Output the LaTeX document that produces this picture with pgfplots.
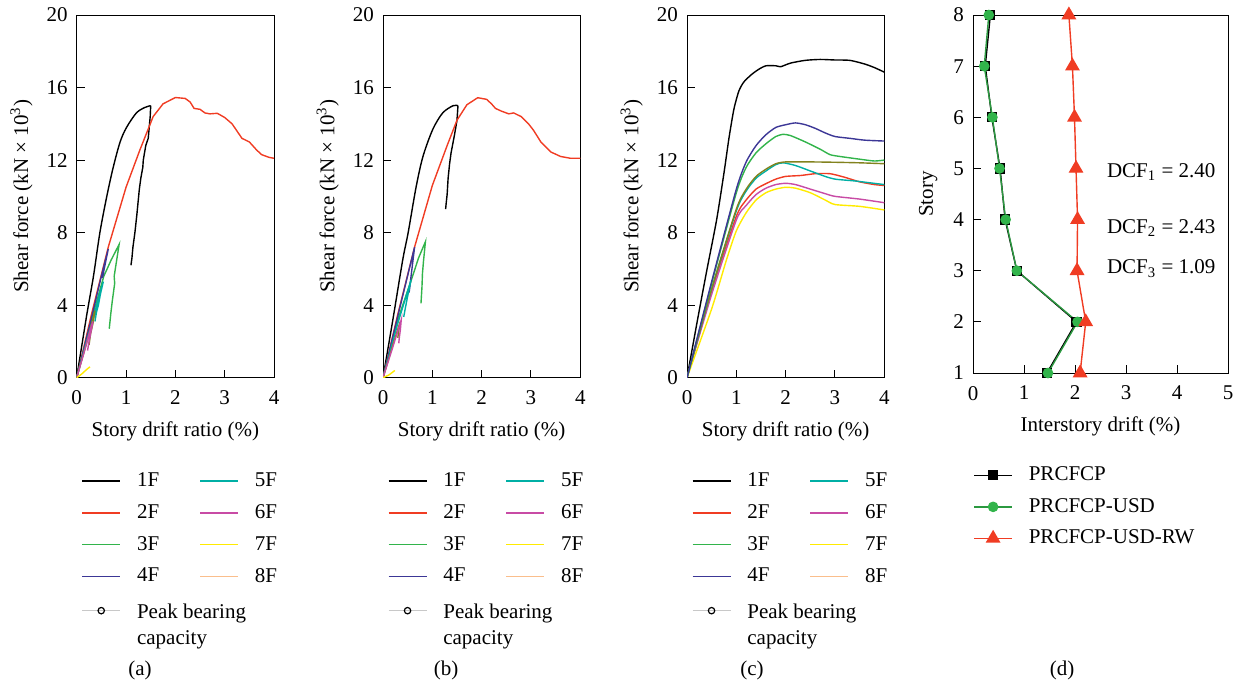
\documentclass[border=0pt]{standalone}
\usepackage{fontspec}
\setmainfont{Liberation Serif}
\usepackage{pgfplots}
\pgfplotsset{compat=1.18}
\definecolor{cR}{RGB}{240,60,35}
\definecolor{cG}{RGB}{50,180,75}
\definecolor{cB}{RGB}{60,55,150}
\definecolor{cC}{RGB}{0,175,165}
\definecolor{cM}{RGB}{200,75,165}
\definecolor{cY}{RGB}{255,235,0}
\definecolor{cO}{RGB}{130,130,30}
\definecolor{cP}{RGB}{250,190,140}
\definecolor{cGr}{RGB}{200,200,200}
\begin{document}
\begin{tikzpicture}
\pgfplotsset{
  common/.style={
    scale only axis, anchor=south west,
    font=\fontsize{10.5pt}{13pt}\selectfont,
    /pgf/number format/assume math mode=true,
    axis line style={line width=0.5pt},
    tick align=inside, xtick pos=bottom, ytick pos=left,
    major tick length=4pt,
    tick style={line width=0.5pt, black},
    every axis plot/.append style={line width=0.7pt},
    xticklabel style={yshift=-3pt},
    yticklabel style={xshift=-1pt},
  },
  drift/.style={
    common,
    width=98.65pt, height=181.35pt,
    xmin=0, xmax=4, ymin=0, ymax=20,
    xtick={0,1,2,3,4}, ytick={0,4,8,12,16,20},
    xlabel={Story drift ratio (\%)},
    xlabel style={at={(axis description cs:0.5,-0.149)}, anchor=center},
    ylabel={Shear force (kN × 10\textsuperscript{3})},
    ylabel style={at={(axis description cs:-0.28,0.5)}, anchor=center},
    legend columns=2,
    legend cell align=left,
    legend image code/.code={\draw[##1,mark repeat=2,mark phase=2] plot coordinates {(0pt,0pt) (9.5pt,0pt) (19pt,0pt)};},
    legend style={at={(axis description cs:0.022,-0.249)}, anchor=north west, draw=none, fill=none,
      inner sep=0pt, column sep=6pt, row sep=3.5pt,
      /tikz/every even column/.append style={column sep=18pt}},
  },
  driftlegend/.code={
    \addlegendimage{black, line width=0.8pt}\addlegendentry{1F}
    \addlegendimage{cC, line width=0.8pt}\addlegendentry{5F}
    \addlegendimage{cR, line width=0.8pt}\addlegendentry{2F}
    \addlegendimage{cM, line width=0.8pt}\addlegendentry{6F}
    \addlegendimage{cG, line width=0.8pt}\addlegendentry{3F}
    \addlegendimage{cY, line width=0.8pt}\addlegendentry{7F}
    \addlegendimage{cB, line width=0.8pt}\addlegendentry{4F}
    \addlegendimage{cP, line width=0.8pt}\addlegendentry{8F}
    \addlegendimage{cGr, line width=0.8pt, mark=o, mark size=1.6pt, mark options={black, line width=0.6pt}}
    \addlegendentry{\makebox[0pt][l]{\begin{tabular}[t]{@{}l@{}}Peak bearing\\capacity\end{tabular}}}
  },
}
% ---------------- (a)
\begin{axis}[drift, at={(38.35pt,-188.85pt)}]
\pgfplotsset{driftlegend}
\addplot[black, forget plot, smooth, tension=0.5] coordinates {(0,0)(0.2,3.4)(0.34,5.6)(0.47,8.0)(0.61,10.0)(0.74,11.6)(0.88,13.0)(1.01,13.8)(1.21,14.6)(1.38,14.9)(1.5,15.0)};
\addplot[black, forget plot] coordinates {(1.5,15.0)(1.49,14.4)(1.45,13.2)(1.4,12.8)(1.35,12.0)(1.34,11.6)(1.3,11.0)(1.27,10.4)(1.22,9.0)(1.18,8.0)(1.14,7.2)(1.12,6.6)(1.1,6.2)};
\addplot[cR, forget plot] coordinates {(0,0)(0.3,3.5)(0.64,7.2)(1.0,10.5)(1.28,12.55)(1.55,14.4)(1.75,15.1)(2.0,15.45)(2.2,15.4)(2.3,15.2)(2.38,14.85)(2.5,14.8)(2.6,14.6)(2.7,14.55)(2.85,14.58)(3.0,14.35)(3.15,14.0)(3.25,13.6)(3.35,13.2)(3.5,13.0)(3.65,12.55)(3.75,12.3)(3.9,12.15)(4.0,12.1)};
\addplot[cG, forget plot] coordinates {(0,0)(0.3,3.2)(0.55,5.6)(0.7,6.5)(0.86,7.35)(0.8,6.3)(0.76,5.6)(0.77,5.2)(0.72,4.2)(0.69,3.5)(0.66,2.7)};
\addplot[cB, forget plot] coordinates {(0,0)(0.3,3.3)(0.5,5.6)(0.64,7.1)(0.58,6.3)(0.52,5.5)(0.55,5.8)};
\addplot[cC, forget plot] coordinates {(0,0)(0.2,2.0)(0.35,3.4)(0.45,4.5)(0.54,5.3)(0.48,4.6)(0.44,4.0)(0.4,3.6)(0.37,3.1)};
\addplot[cO, forget plot] coordinates {(0,0)(0.2,1.9)(0.37,3.7)(0.33,3.0)(0.28,2.4)(0.25,1.8)};
\addplot[cM, forget plot] coordinates {(0,0)(0.15,1.4)(0.3,2.9)(0.33,3.1)(0.28,2.4)(0.25,2.0)(0.22,1.5)};
\addplot[cY, forget plot] coordinates {(0,0)(0.1,0.2)(0.2,0.45)(0.27,0.6)};
\end{axis}
% ---------------- (b)
\begin{axis}[drift, at={(191.5pt,-188.85pt)}]
\pgfplotsset{driftlegend}
\addplot[black, forget plot, smooth, tension=0.5] coordinates {(0,0)(0.2,3.2)(0.40,6.5)(0.51,8.0)(0.67,10.5)(0.81,12.2)(1.01,13.7)(1.21,14.6)(1.42,15.0)(1.52,15.0)};
\addplot[black, forget plot] coordinates {(1.52,15.0)(1.5,14.2)(1.45,13.4)(1.38,12.4)(1.35,11.8)(1.32,11.0)(1.3,10.1)(1.28,9.6)(1.27,9.3)};
\addplot[cR, forget plot] coordinates {(0,0)(0.3,3.5)(0.65,7.3)(1.0,10.6)(1.3,12.8)(1.5,14.2)(1.7,15.05)(1.92,15.44)(2.1,15.35)(2.2,15.1)(2.28,14.85)(2.4,14.7)(2.55,14.55)(2.65,14.6)(2.8,14.4)(2.95,14.0)(3.05,13.65)(3.2,13.0)(3.4,12.45)(3.6,12.2)(3.8,12.1)(4.0,12.1)};
\addplot[cG, forget plot] coordinates {(0,0)(0.3,3.2)(0.6,5.6)(0.72,6.6)(0.86,7.5)(0.82,6.4)(0.8,5.75)(0.79,5.0)(0.77,4.1)};
\addplot[cB, forget plot] coordinates {(0,0)(0.3,3.4)(0.64,7.2)(0.6,6.3)(0.56,5.4)(0.53,4.7)};
\addplot[cC, forget plot] coordinates {(0,0)(0.3,3.0)(0.57,5.4)(0.5,4.5)(0.45,3.8)(0.42,3.35)};
\addplot[cO, forget plot] coordinates {(0,0)(0.2,1.8)(0.35,3.1)(0.32,2.6)(0.3,2.2)};
\addplot[cM, forget plot] coordinates {(0,0)(0.2,1.7)(0.37,3.2)(0.35,2.6)(0.33,2.2)(0.32,1.9)};
\addplot[cY, forget plot] coordinates {(0,0)(0.12,0.15)(0.24,0.4)};
\end{axis}
% ---------------- (c)
\begin{axis}[drift, at={(343.5pt,-188.85pt)}]
\pgfplotsset{driftlegend}
\addplot[black, forget plot, smooth, tension=0.4] coordinates {(0,0)(0.2,3.0)(0.4,5.9)(0.6,8.7)(0.75,11.3)(0.85,13.2)(0.95,14.8)(1.05,15.8)(1.15,16.3)(1.3,16.7)(1.45,17.0)(1.6,17.2)(1.8,17.2)(1.9,17.15)(2.1,17.35)(2.4,17.5)(2.7,17.55)(3.0,17.52)(3.3,17.5)(3.6,17.3)(3.8,17.1)(4.0,16.85)};
\addplot[cR, forget plot, smooth, tension=0.4] coordinates {(0,0)(0.5,4.8)(1.0,8.9)(1.2,9.8)(1.4,10.4)(1.6,10.7)(1.8,10.95)(2.0,11.1)(2.3,11.15)(2.6,11.25)(2.9,11.25)(3.2,11.05)(3.5,10.8)(3.8,10.65)(4.0,10.6)};
\addplot[cM, forget plot, smooth, tension=0.4] coordinates {(0,0)(0.5,4.6)(1.0,8.7)(1.2,9.5)(1.4,10.1)(1.6,10.45)(1.8,10.65)(2.0,10.72)(2.2,10.65)(2.5,10.4)(2.8,10.15)(3.0,10.0)(3.5,9.85)(4.0,9.65)};
\addplot[cY, forget plot, smooth, tension=0.4] coordinates {(0,0)(0.5,3.8)(0.8,6.5)(1.0,8.1)(1.2,9.1)(1.4,9.8)(1.6,10.2)(1.8,10.4)(2.0,10.5)(2.2,10.45)(2.5,10.2)(2.8,9.8)(3.0,9.55)(3.5,9.45)(4.0,9.25)};
\addplot[cC, forget plot, smooth, tension=0.4] coordinates {(0,0)(0.5,4.9)(1.0,9.2)(1.2,10.3)(1.4,11.0)(1.6,11.4)(1.8,11.75)(1.95,11.85)(2.2,11.7)(2.5,11.4)(2.8,11.1)(3.0,10.95)(3.4,10.85)(3.7,10.75)(4.0,10.65)};
\addplot[cO, forget plot, smooth, tension=0.4] coordinates {(0,0)(0.5,4.9)(1.0,9.3)(1.2,10.4)(1.4,11.1)(1.6,11.5)(1.8,11.8)(2.0,11.9)(2.5,11.9)(3.0,11.88)(3.5,11.85)(4.0,11.8)};
\addplot[cG, forget plot, smooth, tension=0.4] coordinates {(0,0)(0.5,5.2)(1.0,10.2)(1.2,11.6)(1.4,12.4)(1.6,12.9)(1.8,13.3)(1.95,13.42)(2.1,13.35)(2.4,13.0)(2.7,12.6)(2.9,12.3)(3.1,12.2)(3.5,12.05)(3.8,11.95)(4.0,12.0)};
\addplot[cB, forget plot, smooth, tension=0.4] coordinates {(0,0)(0.5,5.3)(1.0,10.4)(1.2,11.9)(1.4,12.8)(1.6,13.4)(1.8,13.8)(2.0,13.95)(2.2,14.05)(2.4,13.95)(2.6,13.75)(2.8,13.5)(3.0,13.3)(3.3,13.2)(3.6,13.1)(4.0,13.05)};
\end{axis}
% ---------------- (d)
\begin{axis}[common, at={(486.5pt,-186.5pt)},
  width=127.5pt, height=179pt,
  xmin=0, xmax=5, ymin=1, ymax=8,
  xtick={0,1,2,3,4,5}, ytick={1,2,3,4,5,6,7,8},
  xlabel={Interstory drift (\%)},
  xlabel style={at={(axis description cs:0.5,-0.148)}, anchor=center},
  ylabel={Story},
  ylabel style={at={(axis description cs:-0.176,0.5)}, anchor=center},
  clip=false,
  legend cell align=left,
  legend image code/.code={\draw[#1,mark repeat=2,mark phase=2] plot coordinates {(0pt,0pt) (9.5pt,0pt) (19pt,0pt)};},
  legend style={at={(axis description cs:0.0,-0.25)}, anchor=north west, draw=none, fill=none,
      inner sep=0pt, column sep=6pt, row sep=3.3pt},
]
\addplot[black, line width=0.7pt, mark=square*, mark size=2.2pt] coordinates {(1.45,1)(2.03,2)(0.86,3)(0.63,4)(0.53,5)(0.37,6)(0.24,7)(0.34,8)};
\addlegendentry{PRCFCP}
\addplot[cG!85!black, line width=0.7pt, mark=*, mark size=2.3pt, mark options={fill=cG, draw=cG}] coordinates {(1.47,1)(2.05,2)(0.86,3)(0.64,4)(0.52,5)(0.38,6)(0.22,7)(0.31,8)};
\addlegendentry{PRCFCP-USD}
\addplot[cR, line width=0.7pt, mark=triangle*, mark size=3.6pt] coordinates {(2.10,1)(2.21,2)(2.04,3)(2.05,4)(2.02,5)(1.99,6)(1.95,7)(1.88,8)};
\addlegendentry{PRCFCP-USD-RW}
\node[anchor=west, font=\fontsize{10.5pt}{12pt}\selectfont] at (axis cs:2.49,4.93) {DCF\textsubscript{1} = 2.40};
\node[anchor=west, font=\fontsize{10.5pt}{12pt}\selectfont] at (axis cs:2.49,3.84) {DCF\textsubscript{2} = 2.43};
\node[anchor=west, font=\fontsize{10.5pt}{12pt}\selectfont] at (axis cs:2.49,3.04) {DCF\textsubscript{3} = 1.09};
\end{axis}
% panel labels
\node[font=\fontsize{10.5pt}{12pt}\selectfont] at (70pt,-335pt) {(a)};
\node[font=\fontsize{10.5pt}{12pt}\selectfont] at (223pt,-335pt) {(b)};
\node[font=\fontsize{10.5pt}{12pt}\selectfont] at (376pt,-335pt) {(c)};
\node[font=\fontsize{10.5pt}{12pt}\selectfont] at (531pt,-335pt) {(d)};
\pgfresetboundingbox
\path[use as bounding box] (0pt,0pt) rectangle (620pt,-343pt);
\end{tikzpicture}
\end{document}
